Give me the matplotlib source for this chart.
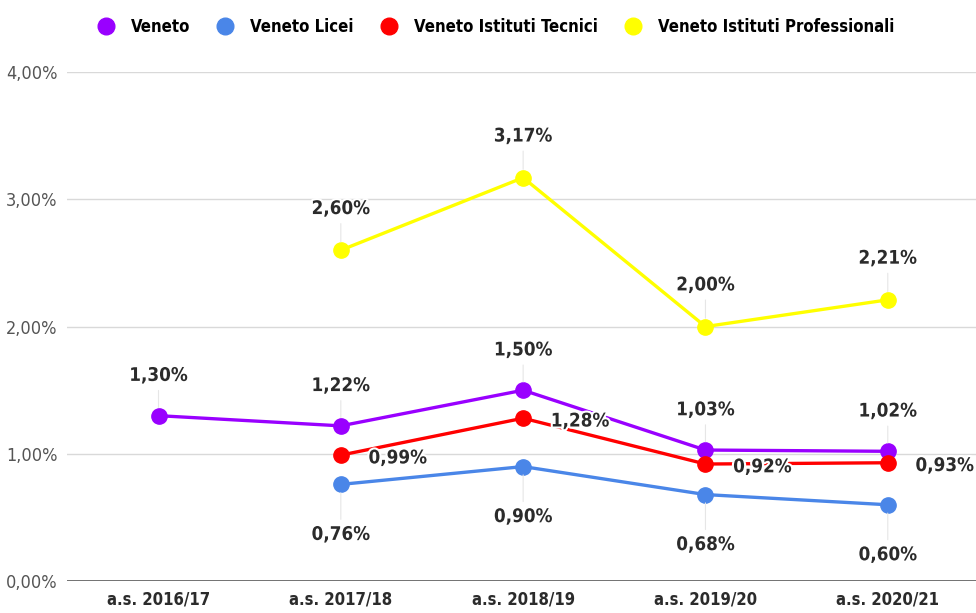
import numpy as np
import matplotlib.pyplot as plt
import matplotlib.patheffects as pe
from matplotlib import font_manager
from matplotlib.lines import Line2D

# Dati
anni = ['a.s. 2016/17', 'a.s. 2017/18', 'a.s. 2018/19', 'a.s. 2019/20', 'a.s. 2020/21']
veneto = [1.30, 1.22, 1.50, 1.03, 1.02]
licei = [np.nan, 0.76, 0.90, 0.68, 0.60]
tecnici = [np.nan, 0.99, 1.28, 0.92, 0.93]
professionali = [np.nan, 2.60, 3.17, 2.00, 2.21]

nomi = ['Veneto', 'Veneto Licei', 'Veneto Istituti Tecnici', 'Veneto Istituti Professionali']
colori = ['#9900ff', '#4a86e8', '#ff0000', '#ffff00']

# DejaVu condensed se presente, altrimenti caratteri un po' più piccoli
condensato = any(f.name == 'DejaVu Sans' and f.stretch == 'condensed'
                 for f in font_manager.fontManager.ttflist)
if condensato:
    plt.rcParams['font.stretch'] = 'condensed'
    k = 1.0
else:
    k = 0.88

fmt = lambda v: f'{v:.2f}%'.replace('.', ',')

fig = plt.figure(figsize=(9.76, 6.13), dpi=100)
ax = fig.add_axes([0.069, 0.052, 0.934, 0.8305])

x = np.arange(len(anni))
serie = [veneto, licei, tecnici, professionali]
# posizione etichette: (dx, dy) in punti
offset = [(0, 29), (0, -36), (41, -2), (0, 30)]
contorno = [pe.withStroke(linewidth=3, foreground='white')]

for dati, col, nome, off in zip(serie, colori, nomi, offset):
    ax.plot(x, dati, color=col, lw=2.4, marker='o', ms=11, label=nome, zorder=3)
    for xi, v in zip(x, dati):
        if np.isnan(v):
            continue
        leader = dict(arrowstyle='-', color='#e6e6e6', lw=0.8, shrinkA=2, shrinkB=6) if off[0] == 0 else None
        ax.annotate(fmt(v), (xi, v), xytext=off, textcoords='offset points',
                    ha='center', va='center', fontsize=13.5 * k, fontweight='bold',
                    color='#2b2b2b', arrowprops=leader, zorder=4, path_effects=contorno)

ax.set_xlim(-0.5, 4.5)
ax.set_ylim(0, 4)
ax.set_yticks([0, 1, 2, 3, 4])
ax.set_yticklabels([fmt(v) for v in [0, 1, 2, 3, 4]], color='#555555', fontsize=13 * k)
ax.set_xticks(x)
ax.set_xticklabels(anni, fontsize=12 * k, fontweight='bold', color='#2b2b2b')
ax.tick_params(length=0, pad=7)
ax.tick_params(axis='y', pad=7)
ax.grid(axis='y', color='#d9d9d9', lw=1)
ax.axhline(0, color='#666666', lw=2, zorder=2)
for s in ax.spines.values():
    s.set_visible(False)

handles = [Line2D([], [], ls='', marker='o', ms=12, color=c) for c in colori]
fig.legend(handles, nomi, loc='upper center', bbox_to_anchor=(0.508, 0.995), ncol=4,
           frameon=False, prop={'weight': 'bold', 'size': 12 * k},
           handlelength=1.0, handletextpad=1.0, columnspacing=1.6)

fig.savefig('out.png', dpi=100)
